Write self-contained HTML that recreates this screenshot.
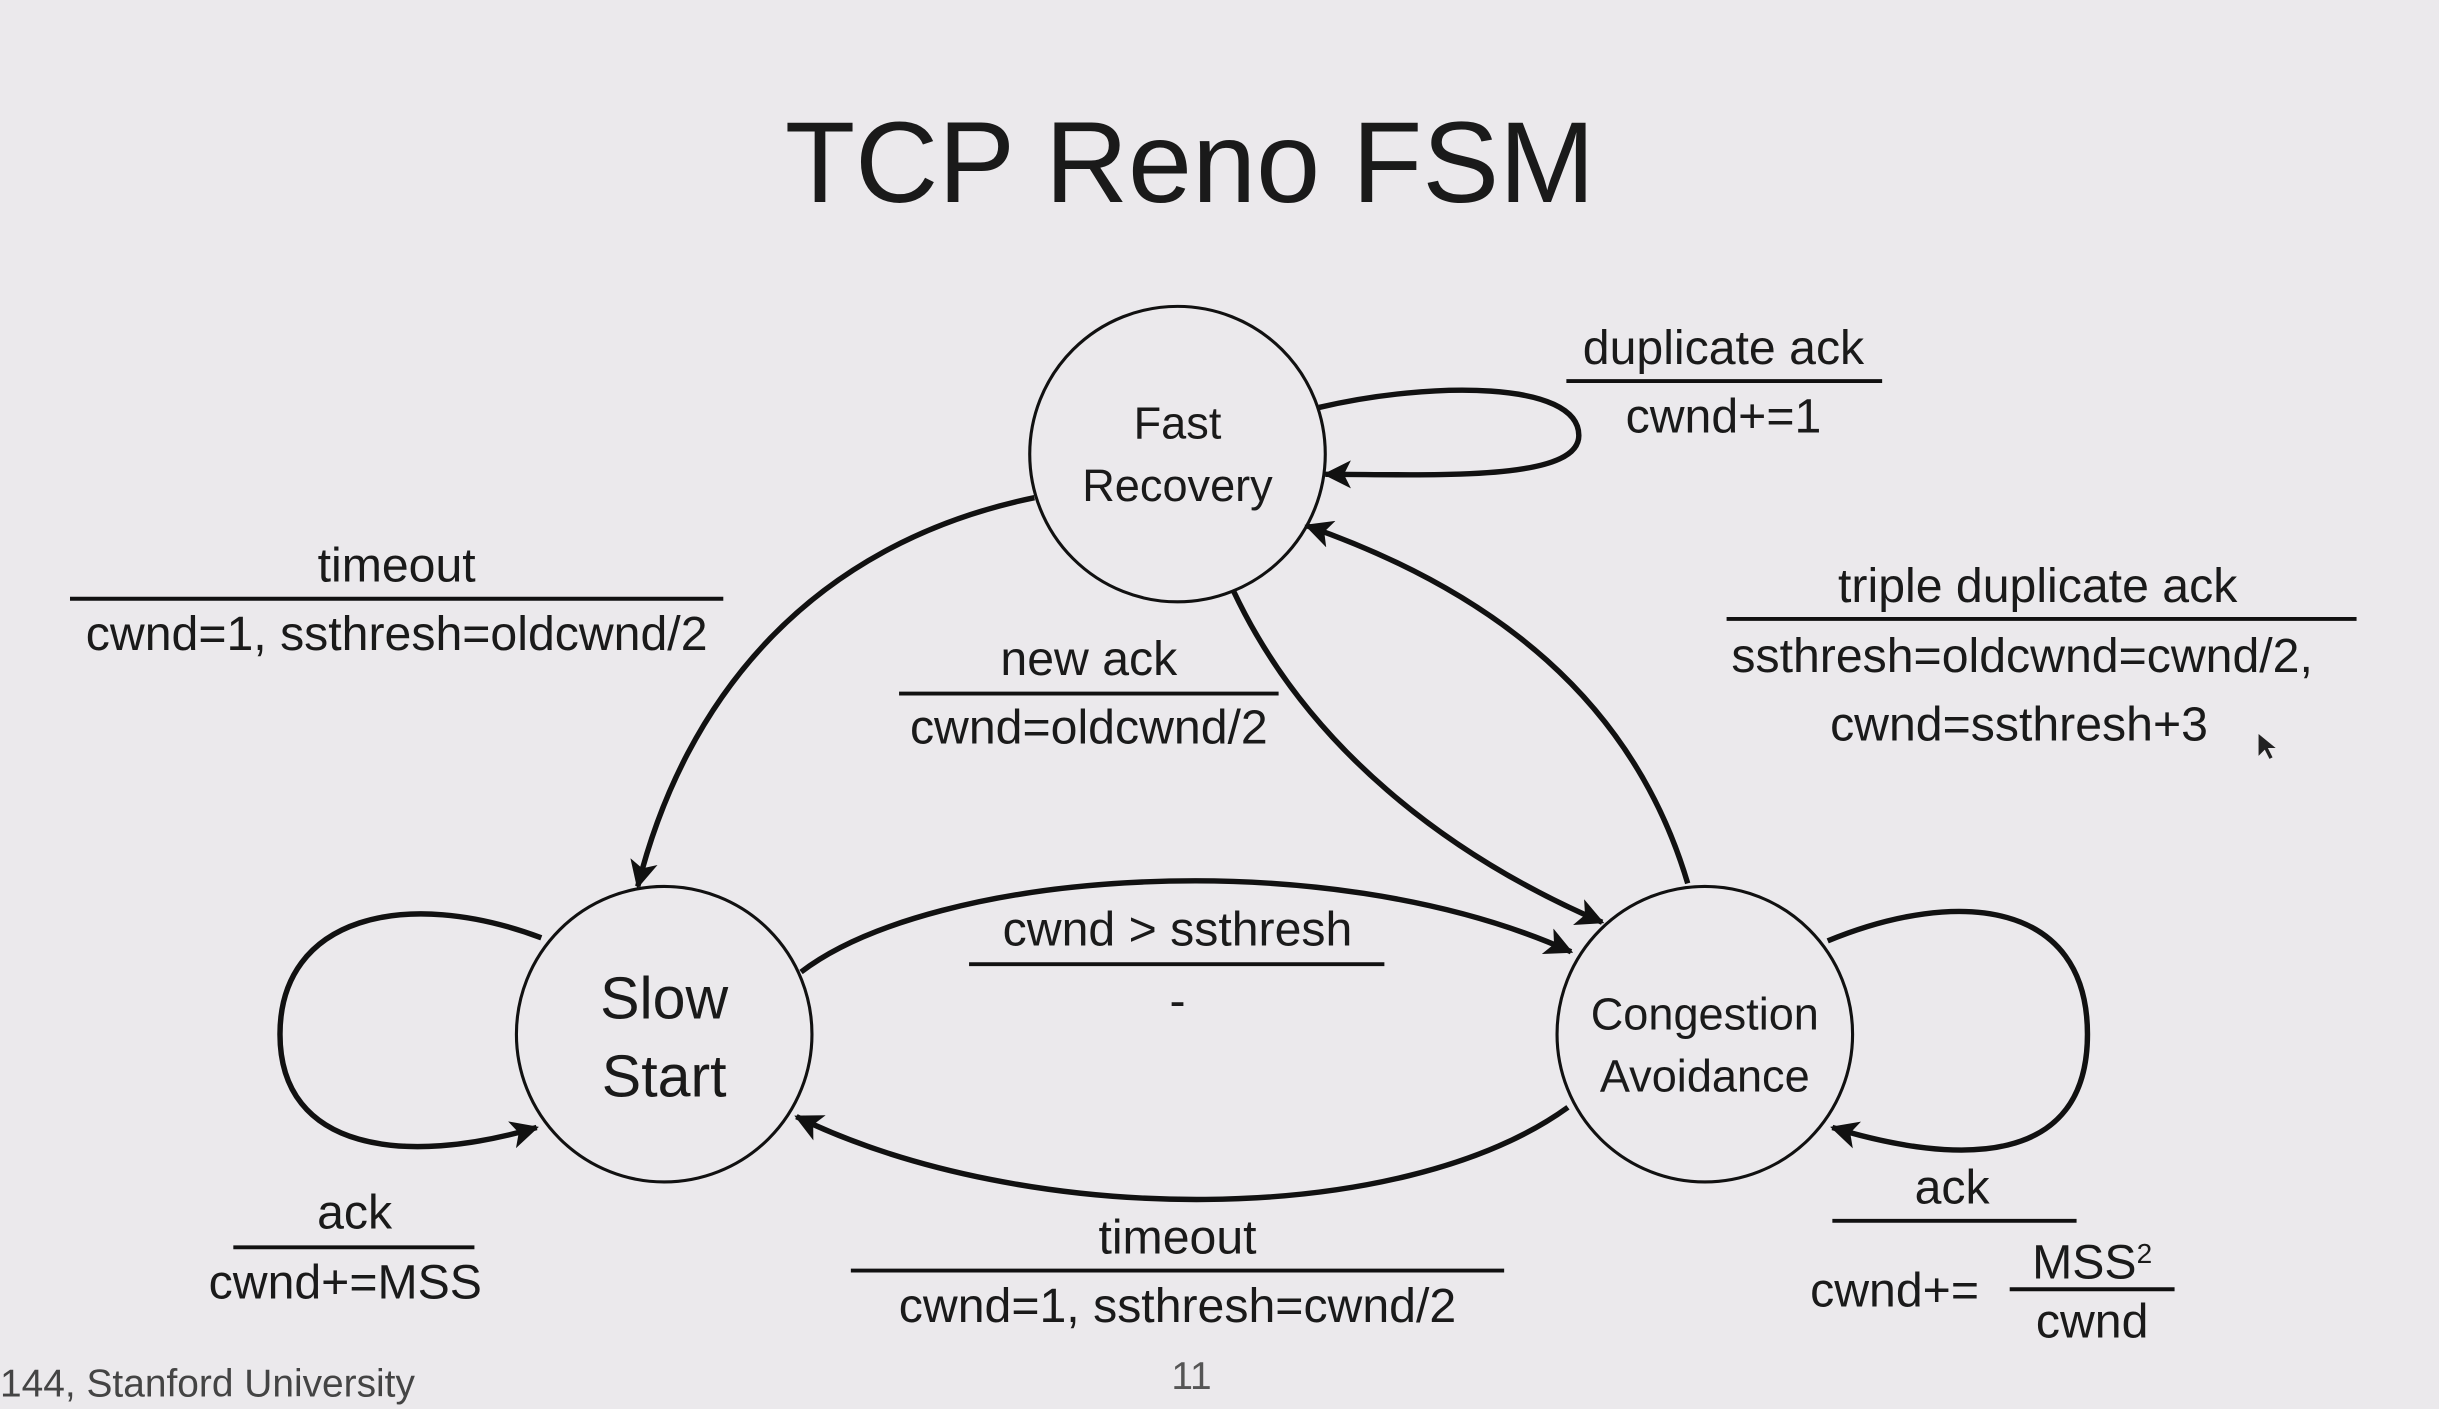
<!DOCTYPE html>
<html><head><meta charset="utf-8"><style>
html,body{margin:0;padding:0;background:#ebe9ec;}
svg{display:block;}
text{font-family:"Liberation Sans",sans-serif;fill:#1a1a1a;}
</style></head><body>
<svg width="2439" height="1409" viewBox="0 0 1568 906" preserveAspectRatio="none" xmlns="http://www.w3.org/2000/svg">
<defs>
<marker id="b" viewBox="0 0 12 12" refX="11" refY="6" markerWidth="18" markerHeight="18" orient="auto" markerUnits="userSpaceOnUse">
<path d="M0,0 L12,6 L0,12 L3,6 z" fill="#111"/>
</marker>
</defs>
<rect width="1568" height="906" fill="#ebe9ec"/>
<text x="765" y="130" font-size="74" text-anchor="middle">TCP Reno FSM</text>

<g fill="none" stroke="#111" stroke-width="2">
<circle cx="757" cy="292" r="95"/>
<circle cx="427" cy="665" r="95"/>
<circle cx="1096" cy="665" r="95"/>
</g>
<g fill="none" stroke="#111" stroke-width="3.5">
<path d="M848,262 C920,245 1015,245 1015,280 C1015,310 920,305 852,305" marker-end="url(#b)"/>
<path d="M665,320 C520,350 440,450 410,570" marker-end="url(#b)"/>
<path d="M793,380 C840,480 930,550 1030,593" marker-end="url(#b)"/>
<path d="M1085,568 C1050,450 960,380 840,338" marker-end="url(#b)"/>
<path d="M515,625 C600,560 850,540 1010,612" marker-end="url(#b)"/>
<path d="M1008,712 C900,790 660,790 512,718" marker-end="url(#b)"/>
<path d="M348,603 C260,570 180,590 180,665 C180,740 260,750 345,725" marker-end="url(#b)"/>
<path d="M1175,605 C1260,570 1342,580 1342,665 C1342,750 1260,750 1178,725" marker-end="url(#b)"/>
</g>

<g font-size="29" text-anchor="middle">
<text x="757" y="282">Fast</text>
<text x="757" y="322">Recovery</text>
<text x="427" y="655" font-size="38">Slow</text>
<text x="427" y="705" font-size="38">Start</text>
<text x="1096" y="662">Congestion</text>
<text x="1096" y="702">Avoidance</text>
</g>

<g font-size="31" text-anchor="middle">
<text x="1108" y="234">duplicate ack</text>
<text x="1108" y="278">cwnd+=1</text>
<text x="255" y="374">timeout</text>
<text x="255" y="418">cwnd=1, ssthresh=oldcwnd/2</text>
<text x="700" y="434">new ack</text>
<text x="700" y="478">cwnd=oldcwnd/2</text>
<text x="1310" y="387">triple duplicate ack</text>
<text x="1300" y="432">ssthresh=oldcwnd=cwnd/2,</text>
<text x="1298" y="476">cwnd=ssthresh+3</text>
<text x="757" y="608">cwnd &gt; ssthresh</text>
<text x="757" y="654">-</text>
<text x="228" y="790">ack</text>
<text x="222" y="835">cwnd+=MSS</text>
<text x="757" y="806">timeout</text>
<text x="757" y="850">cwnd=1, ssthresh=cwnd/2</text>
<text x="1255" y="774">ack</text>
<text x="1218" y="840">cwnd+=</text>
<text x="1345" y="822">MSS<tspan font-size="18" dy="-10">2</tspan></text>
<text x="1345" y="860">cwnd</text>
</g>
<g stroke="#111" stroke-width="2.5">
<line x1="1007" y1="245" x2="1210" y2="245"/>
<line x1="45" y1="385" x2="465" y2="385"/>
<line x1="578" y1="446" x2="822" y2="446"/>
<line x1="1110" y1="398" x2="1515" y2="398"/>
<line x1="623" y1="620" x2="890" y2="620"/>
<line x1="150" y1="802" x2="305" y2="802"/>
<line x1="547" y1="817" x2="967" y2="817"/>
<line x1="1178" y1="785" x2="1335" y2="785"/>
<line x1="1292" y1="829" x2="1398" y2="829"/>
</g>
<text x="0" y="898" font-size="25" style="fill:#444">144, Stanford University</text>
<text x="766" y="893" font-size="25" text-anchor="middle" style="fill:#555">11</text>
<path d="M1452,472 l0,14 l4,-4 l3,6 l2,-1 l-3,-6 l5,0 z" fill="#222"/>
</svg>
</body></html>
